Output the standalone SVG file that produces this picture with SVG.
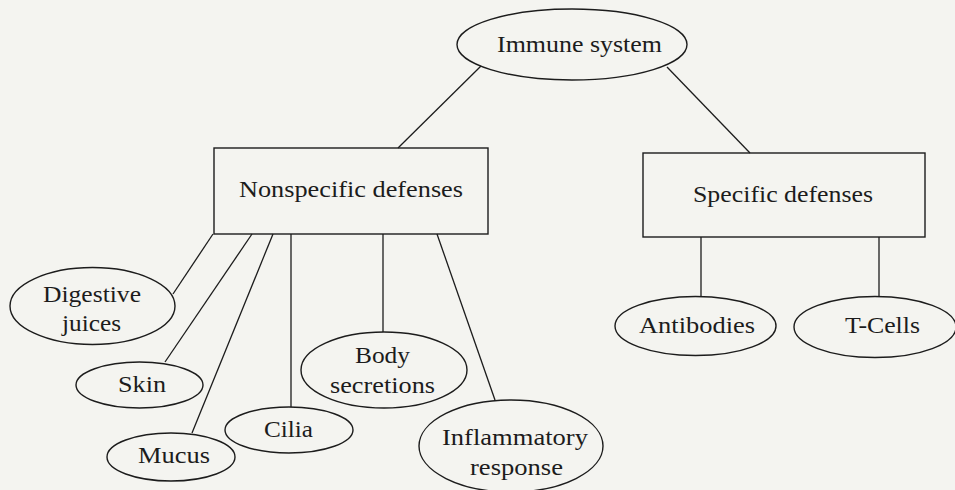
<svg xmlns="http://www.w3.org/2000/svg" width="955" height="490" viewBox="0 0 955 490">
  <style>
    .shape { fill: none; stroke: #1c1c1c; stroke-width: 1.4; }
    .conn { stroke: #1c1c1c; stroke-width: 1.3; fill: none; }
    .lbl { font-family: "Liberation Serif", "Times New Roman", serif; font-size: 23px; fill: #1c1c1c; text-anchor: middle; }
  </style>
  <rect x="0" y="0" width="955" height="490" fill="#f4f4f0"/>

  <g id="connectors">
    <line class="conn" x1="481" y1="66" x2="398" y2="148"/>
    <line class="conn" x1="667" y1="67" x2="750" y2="153"/>
    <line class="conn" x1="213" y1="234" x2="173" y2="294"/>
    <line class="conn" x1="252" y1="234" x2="165" y2="362"/>
    <line class="conn" x1="273" y1="234" x2="192" y2="433"/>
    <line class="conn" x1="291" y1="234" x2="291" y2="407"/>
    <line class="conn" x1="383" y1="234" x2="383" y2="332"/>
    <line class="conn" x1="437" y1="234" x2="495" y2="400"/>
    <line class="conn" x1="701" y1="237" x2="701" y2="297"/>
    <line class="conn" x1="879" y1="237" x2="879" y2="297"/>
  </g>

  <g id="immune-system">
    <ellipse class="shape" cx="572" cy="44.5" rx="115" ry="35.5"/>
    <text class="lbl" x="579.5" y="52" textLength="165" lengthAdjust="spacingAndGlyphs">Immune system</text>
  </g>

  <g id="nonspecific-defenses">
    <rect class="shape" x="214" y="148" width="274" height="86"/>
    <text class="lbl" x="351" y="197" textLength="224" lengthAdjust="spacingAndGlyphs">Nonspecific defenses</text>
  </g>

  <g id="specific-defenses">
    <rect class="shape" x="643" y="153" width="282" height="84"/>
    <text class="lbl" x="783" y="202" textLength="180" lengthAdjust="spacingAndGlyphs">Specific defenses</text>
  </g>

  <g id="digestive-juices">
    <ellipse class="shape" cx="92.5" cy="306" rx="82.5" ry="38.5"/>
    <text class="lbl" x="92" y="302" textLength="98" lengthAdjust="spacingAndGlyphs">Digestive</text>
    <text class="lbl" x="91.5" y="331" textLength="59" lengthAdjust="spacingAndGlyphs">juices</text>
  </g>

  <g id="skin">
    <ellipse class="shape" cx="139.5" cy="385" rx="63.5" ry="23"/>
    <text class="lbl" x="142" y="392" textLength="48" lengthAdjust="spacingAndGlyphs">Skin</text>
  </g>

  <g id="mucus">
    <ellipse class="shape" cx="171" cy="457" rx="64" ry="24"/>
    <text class="lbl" x="174" y="463" textLength="72" lengthAdjust="spacingAndGlyphs">Mucus</text>
  </g>

  <g id="cilia">
    <ellipse class="shape" cx="289" cy="430" rx="64" ry="23"/>
    <text class="lbl" x="288.5" y="437" textLength="49" lengthAdjust="spacingAndGlyphs">Cilia</text>
  </g>

  <g id="body-secretions">
    <ellipse class="shape" cx="384" cy="370" rx="83" ry="38"/>
    <text class="lbl" x="382.5" y="363" textLength="55" lengthAdjust="spacingAndGlyphs">Body</text>
    <text class="lbl" x="382.5" y="393" textLength="105" lengthAdjust="spacingAndGlyphs">secretions</text>
  </g>

  <g id="inflammatory-response">
    <ellipse class="shape" cx="511" cy="446" rx="92" ry="46"/>
    <text class="lbl" x="515" y="445" textLength="146" lengthAdjust="spacingAndGlyphs">Inflammatory</text>
    <text class="lbl" x="516.5" y="475" textLength="93" lengthAdjust="spacingAndGlyphs">response</text>
  </g>

  <g id="antibodies">
    <ellipse class="shape" cx="695.5" cy="326" rx="80.5" ry="29.5"/>
    <text class="lbl" x="697" y="333" textLength="116" lengthAdjust="spacingAndGlyphs">Antibodies</text>
  </g>

  <g id="t-cells">
    <ellipse class="shape" cx="875" cy="327" rx="81" ry="30.5"/>
    <text class="lbl" x="882.5" y="333" textLength="75" lengthAdjust="spacingAndGlyphs">T-Cells</text>
  </g>
</svg>
